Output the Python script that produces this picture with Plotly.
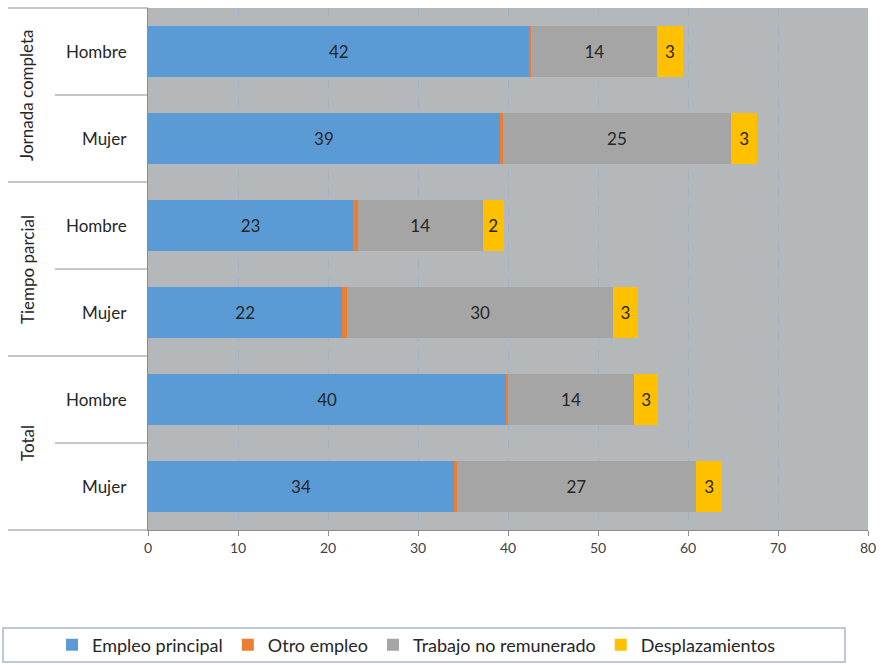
import plotly.graph_objects as go

groups = ["Jornada completa", "Jornada completa", "Tiempo parcial", "Tiempo parcial", "Total", "Total"]
sexes = ["Hombre", "Mujer", "Hombre", "Mujer", "Hombre", "Mujer"]
empleo_principal = [42.4, 39.1, 22.8, 21.6, 39.8, 34.0]
otro_empleo = [0.2, 0.3, 0.5, 0.5, 0.2, 0.3]
trabajo_no_remunerado = [14.0, 25.4, 13.9, 29.6, 14.0, 26.6]
desplazamientos = [2.8, 2.9, 2.3, 2.7, 2.7, 2.9]
series_names = ["Empleo principal", "Otro empleo", "Trabajo no remunerado", "Desplazamientos"]
colors = ["#5B9BD5", "#ED7D31", "#A5A5A5", "#FFC000"]
x_ticks = [0, 10, 20, 30, 40, 50, 60, 70, 80]

FONT = "Lato, 'Open Sans', sans-serif"
cats = [f"{g}|{s}" for g, s in zip(groups, sexes)]

fig = go.Figure()
for name, vals, col in zip(series_names,
                           [empleo_principal, otro_empleo, trabajo_no_remunerado, desplazamientos],
                           colors):
    show_text = name != "Otro empleo"
    fig.add_trace(go.Bar(
        y=cats, x=vals, orientation="h", name=name,
        marker=dict(color=col, line=dict(width=0)),
        text=[f"{v:.0f}" for v in vals] if show_text else None,
        textposition="inside" if show_text else "none",
        insidetextanchor="middle", textangle=0, constraintext="none",
        textfont=dict(family=FONT, size=17, color="#262626"),
        cliponaxis=False,
    ))

W, H = 720, 522
L, T = 148, 8

def px_x(x):
    return (x - L) / W

def px_y(y):
    return 1 - (y - T) / H

shapes = []
for yy in [1.0, 4 / 6, 2 / 6, 0.0]:
    shapes.append(dict(type="line", xref="paper", yref="paper", x0=px_x(8), x1=0, y0=yy, y1=yy,
                       line=dict(color="#8C8C8C", width=1)))
for yy in [5 / 6, 3 / 6, 1 / 6]:
    shapes.append(dict(type="line", xref="paper", yref="paper", x0=px_x(55), x1=0, y0=yy, y1=yy,
                       line=dict(color="#8C8C8C", width=1)))
shapes.append(dict(type="rect", xref="paper", yref="paper", x0=px_x(3), x1=px_x(845),
                   y0=px_y(662), y1=px_y(628), line=dict(color="#A8B8C8", width=1.5),
                   fillcolor="rgba(0,0,0,0)"))

annotations = []
for c, s in zip(cats, sexes):
    annotations.append(dict(xref="paper", yref="y", x=px_x(129), y=c, text=s, showarrow=False,
                            xanchor="right", yanchor="middle",
                            font=dict(family=FONT, size=17, color="#262626")))
group_names = ["Jornada completa", "Tiempo parcial", "Total"]
for k, gname in enumerate(group_names):
    annotations.append(dict(xref="paper", yref="paper", x=px_x(27), y=1 - (2 * k + 1) / 6, text=gname,
                            showarrow=False, textangle=-90, xanchor="center", yanchor="middle",
                            font=dict(family=FONT, size=17, color="#262626")))

fig.update_layout(
    width=882, height=665,
    margin=dict(l=L, r=882 - L - W, t=T, b=665 - T - H, autoexpand=False),
    paper_bgcolor="white", plot_bgcolor="#B4B8BB",
    barmode="stack", bargap=0.425,
    font=dict(family=FONT, size=14, color="#404040"),
    xaxis=dict(range=[0, 80], tickvals=x_ticks, showgrid=True, gridcolor="#9FB3C6",
               griddash="dash", gridwidth=1, zeroline=False,
               ticks="outside", ticklen=5, tickcolor="#8C8C8C", showline=True, linecolor="#8C8C8C",
               tickfont=dict(family=FONT, size=14, color="#404040")),
    yaxis=dict(categoryorder="array", categoryarray=cats, autorange="reversed",
               showticklabels=False, showgrid=False, zeroline=False,
               showline=True, linecolor="#8C8C8C", ticks=""),
    legend=dict(orientation="h", x=px_x(52), xanchor="left", y=px_y(645), yanchor="middle",
                font=dict(family=FONT, size=18, color="#262626"), traceorder="normal",
                bgcolor="rgba(0,0,0,0)"),
    shapes=shapes, annotations=annotations,
    showlegend=True,
)

fig.write_html("out.html")
